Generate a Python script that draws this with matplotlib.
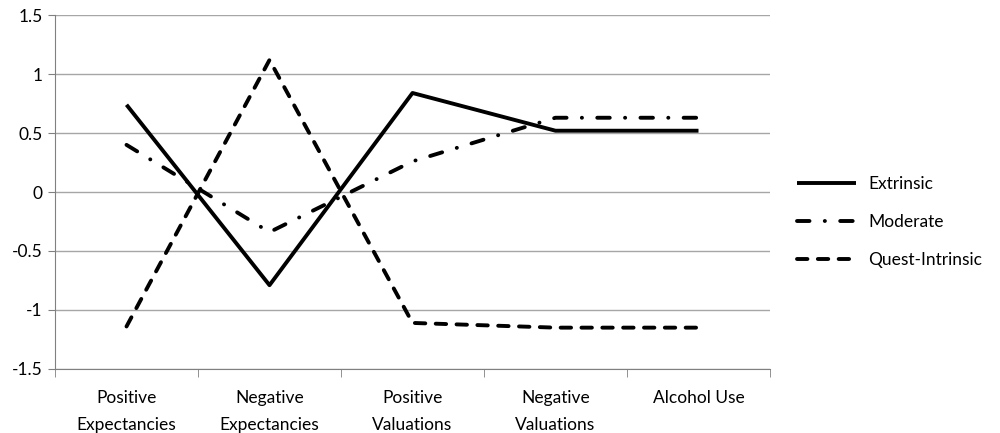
import numpy as np
import matplotlib
matplotlib.use('Agg')
import matplotlib.pyplot as plt

plt.rcParams['font.family'] = ['Lato', 'DejaVu Sans']
plt.rcParams['lines.scale_dashes'] = False

categories = ['Positive\nExpectancies', 'Negative\nExpectancies', 'Positive\nValuations',
              'Negative\nValuations', 'Alcohol Use']
extrinsic = [0.74, -0.79, 0.84, 0.52, 0.52]
moderate = [0.40, -0.34, 0.26, 0.63, 0.63]
quest_intrinsic = [-1.14, 1.12, -1.11, -1.15, -1.15]

fig = plt.figure(figsize=(10, 4.33), dpi=100)
ax = fig.add_axes([0.055, 0.148, 0.715, 0.817])

x = np.arange(len(categories))
ax.plot(x, extrinsic, color='black', lw=2.8, solid_capstyle='butt', label='Extrinsic')
ax.plot(x, moderate, color='black', lw=2.8, dashes=(9, 11, 0.1, 11),
        dash_capstyle='round', label='Moderate')
ax.plot(x, quest_intrinsic, color='black', lw=2.8, dashes=(7.5, 7.5),
        dash_capstyle='round', label='Quest-Intrinsic')

ax.set_xlim(-0.5, len(categories) - 0.5)
ax.set_ylim(-1.5, 1.5)
ax.set_yticks(np.arange(-1.5, 1.51, 0.5))
ax.set_yticklabels(['-1.5', '-1', '-0.5', '0', '0.5', '1', '1.5'])
ax.grid(axis='y', color='#a6a6a6', lw=1)
ax.set_axisbelow(True)

ax.set_xticks(x)
ax.set_xticklabels(categories, linespacing=1.85, va='top')
ax.set_xticks(np.arange(-0.5, len(categories), 1), minor=True)
ax.tick_params(axis='x', which='major', length=0, pad=15)
ax.tick_params(axis='x', which='minor', length=6, color='#808080', direction='out')
ax.tick_params(axis='y', length=5, color='#808080', pad=4)
ax.tick_params(labelsize=12.5)

for side in ['top', 'right']:
    ax.spines[side].set_visible(False)
for side in ['left', 'bottom']:
    ax.spines[side].set_color('#808080')

leg = fig.legend(loc='center left', bbox_to_anchor=(0.797, 0.487), frameon=False,
                 fontsize=12.5, handlelength=3.4, handletextpad=0.7, labelspacing=1.25,
                 borderpad=0, borderaxespad=0)

fig.savefig('out.png', dpi=100)
